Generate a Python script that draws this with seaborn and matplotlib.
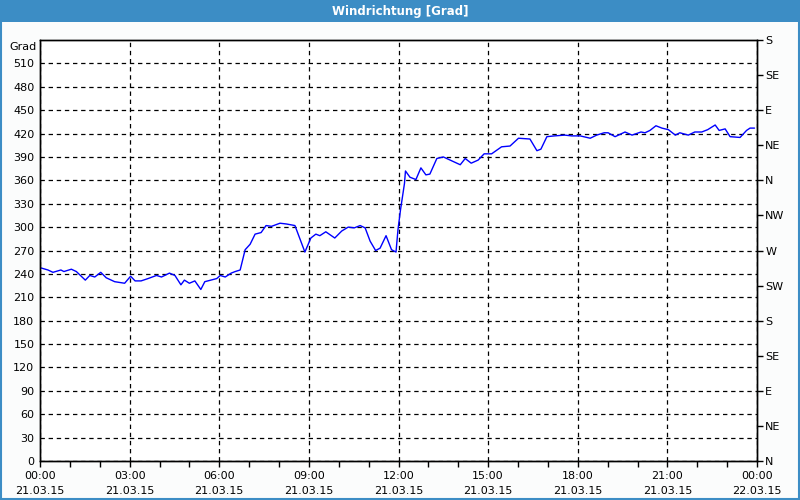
import matplotlib
matplotlib.use("Agg")
import matplotlib.pyplot as plt
import seaborn as sns
import pandas as pd
from matplotlib.patches import Rectangle
from matplotlib.ticker import FixedLocator, MultipleLocator

times = ["00:00", "00:16", "00:26", "00:42", "00:48", "01:03", "01:13", "01:31", "01:40", "01:50",
         "02:02", "02:13", "02:30", "02:50", "03:02", "03:11", "03:23", "03:37", "03:54", "04:04",
         "04:20", "04:31", "04:43", "04:50", "05:00", "05:11", "05:23", "05:31", "05:55", "06:02",
         "06:12", "06:24", "06:32", "06:42", "06:52", "07:02", "07:12", "07:24", "07:34", "07:45",
         "08:02", "08:15", "08:32", "08:52", "09:04", "09:14", "09:22", "09:34", "09:52", "10:06",
         "10:19", "10:31", "10:43", "10:53", "11:03", "11:14", "11:23", "11:35", "11:46", "11:55",
         "11:59", "12:04", "12:12", "12:14", "12:23", "12:35", "12:45", "12:55", "13:03", "13:17",
         "13:30", "13:47", "14:04", "14:14", "14:26", "14:40", "14:52", "15:07", "15:27", "15:44",
         "16:01", "16:24", "16:38", "16:46", "16:58", "17:13", "17:34", "17:48", "18:05", "18:25",
         "18:38", "18:53", "19:01", "19:15", "19:35", "19:49", "20:07", "20:15", "20:25", "20:37",
         "20:49", "21:02", "21:16", "21:25", "21:42", "21:55", "22:09", "22:21", "22:36", "22:44",
         "22:56", "23:06", "23:26", "23:39", "23:46", "23:55"]
direction = [248, 245, 242, 245, 243, 246, 243, 232, 238, 236,
             242, 235, 230, 228, 237, 231, 231, 234, 238, 236,
             241, 238, 226, 232, 228, 231, 220, 230, 234, 238,
             236, 241, 243, 245, 271, 278, 291, 293, 302, 301,
             305, 304, 302, 268, 286, 291, 289, 294, 286, 295,
             300, 299, 302, 299, 282, 270, 273, 289, 271, 268,
             297, 322, 356, 372, 364, 361, 376, 367, 368, 388,
             390, 385, 380, 388, 382, 386, 394, 394, 403, 404,
             414, 413, 398, 400, 416, 417, 418, 417, 417, 414,
             418, 421, 421, 416, 422, 418, 422, 421, 424, 430,
             427, 425, 418, 421, 418, 422, 422, 425, 431, 424,
             426, 416, 415, 424, 427, 427]

y_ticks = list(range(0, 511, 30))
x_tick_labels = ["00:00\n21.03.15", "03:00\n21.03.15", "06:00\n21.03.15", "09:00\n21.03.15",
                 "12:00\n21.03.15", "15:00\n21.03.15", "18:00\n21.03.15", "21:00\n21.03.15",
                 "00:00\n22.03.15"]
compass_labels = ["N", "NE", "E", "SE", "S", "SW", "W", "NW", "N", "NE", "E", "SE", "S"]
title = "Windrichtung [Grad]"
unit = "Grad"

hours = [int(t[:2]) + int(t[3:]) / 60 for t in times]
df = pd.DataFrame({"hour": hours, "deg": direction})

sns.set_style("white")
plt.rcParams["font.family"] = ["DejaVu Sans"]
plt.rcParams["text.color"] = "black"
plt.rcParams["xtick.color"] = "black"
plt.rcParams["ytick.color"] = "black"

fig = plt.figure(figsize=(8, 5), dpi=100, facecolor="#fbfcfc")
ax = fig.add_axes([40 / 800, 1 - 461 / 500, 717 / 800, 421 / 500])
ax.set_facecolor("white")

sns.lineplot(data=df, x="hour", y="deg", ax=ax, color="#0000ff", linewidth=1)

ax.set_xlim(0, 24)
ax.set_ylim(0, 540)
ax.set_xlabel("")
ax.set_ylabel("")

ax.xaxis.set_major_locator(FixedLocator(list(range(0, 25, 3))))
ax.set_xticklabels(x_tick_labels, fontsize=8, linespacing=1.7)
ax.xaxis.set_minor_locator(MultipleLocator(1))
ax.set_yticks(y_ticks)
ax.set_yticklabels([str(v) for v in y_ticks], fontsize=8)

ax.tick_params(axis="x", which="both", direction="out", length=4, width=1, color="black",
               labelcolor="black", bottom=True, pad=3)
ax.tick_params(axis="y", which="both", left=False, length=0, pad=4, labelcolor="black")

for s in ax.spines.values():
    s.set_color("black")
    s.set_linewidth(1)

ax.grid(True, which="major", color="black", linestyle=(0, (3.5, 3)), linewidth=0.9)
ax.set_axisbelow(True)

ax2 = ax.twinx()
ax2.set_ylim(0, 540)
ax2.set_yticks(list(range(0, 541, 45)))
ax2.set_yticklabels(compass_labels, fontsize=8)
ax2.tick_params(axis="y", direction="out", length=4, width=1, color="black",
                labelcolor="black", pad=2)
for s in ax2.spines.values():
    s.set_color("black")
    s.set_linewidth(1)

ax.text(-0.005, 0.995, unit, transform=ax.transAxes, ha="right", va="top",
        fontsize=8, color="black")

# title bar
fig.patches.append(Rectangle((0, 1 - 22 / 500), 1, 22 / 500, transform=fig.transFigure,
                             facecolor="#3c8dc5", edgecolor="none", zorder=0))
fig.text(0.5, 1 - 11 / 500, title, ha="center", va="center", color="white",
         fontsize=8.5, fontweight="bold")
# outer border
fig.patches.append(Rectangle((0.001, 0.002), 0.998, 0.996, transform=fig.transFigure,
                             facecolor="none", edgecolor="#3c8dc5", linewidth=1.5, zorder=5))

fig.savefig("out.png", dpi=100, facecolor=fig.get_facecolor())
